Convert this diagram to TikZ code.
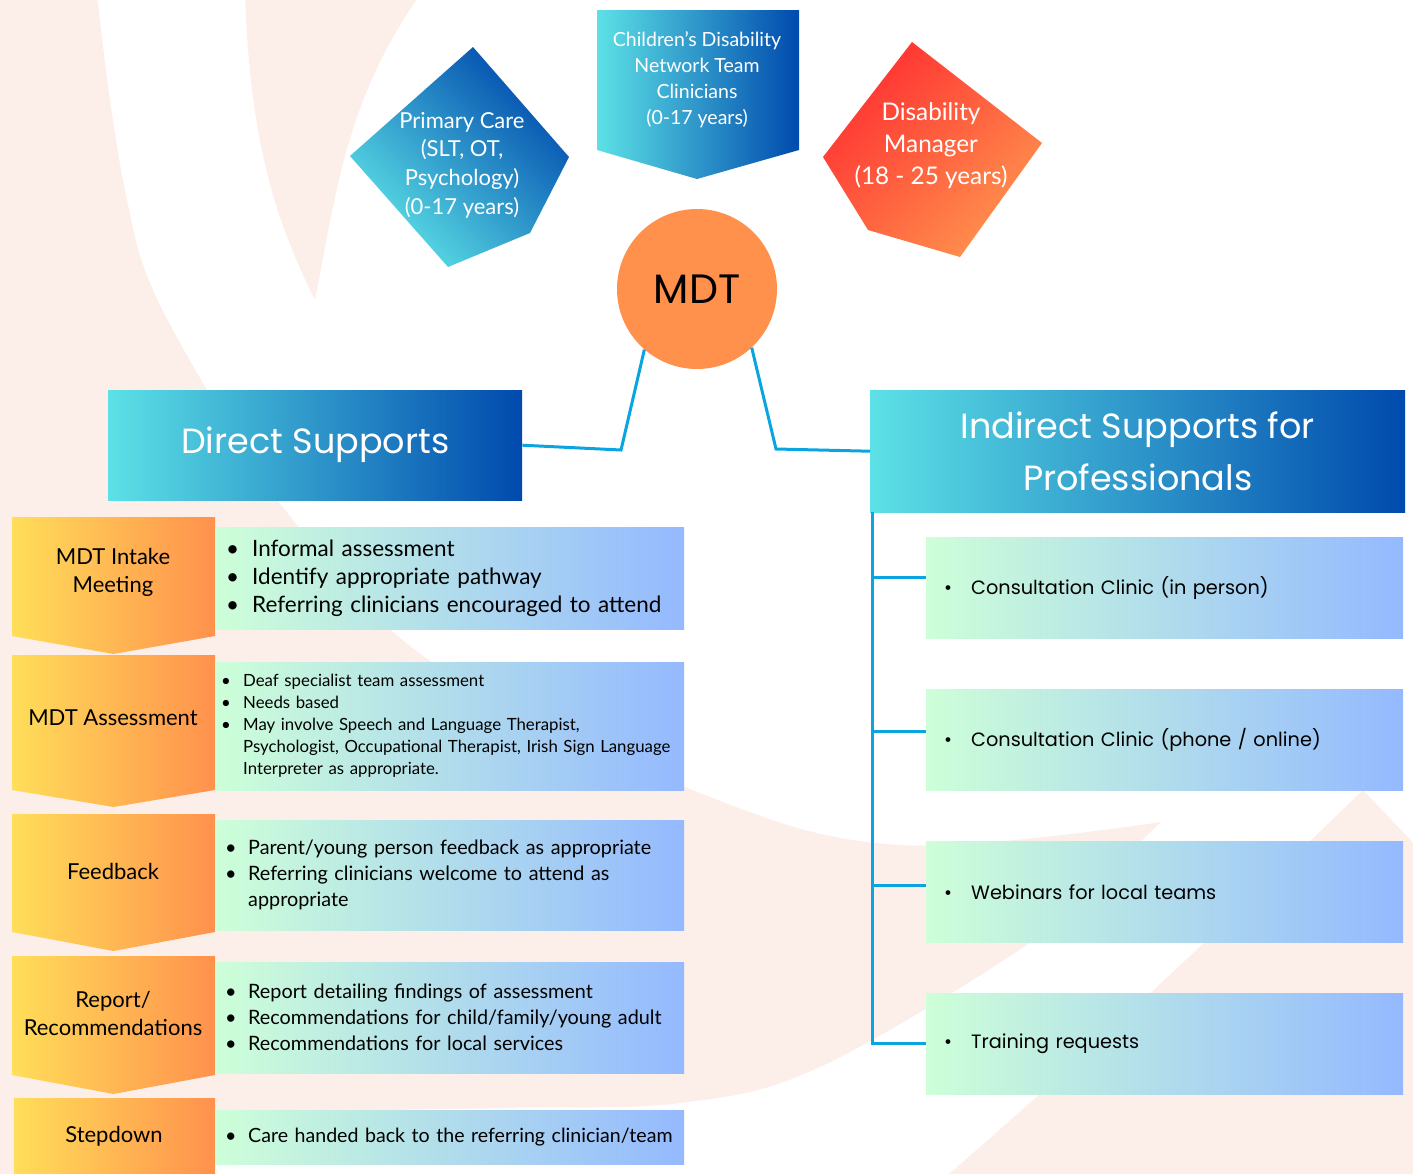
\documentclass[tikz,border=0pt]{standalone}
\usepackage{fontspec}
\setmainfont{Lato}
\newfontfamily\headfont{Poppins}
\usepackage{tikz}
\usetikzlibrary{positioning,calc}

\definecolor{swirlpeach}{HTML}{FCEFEA}
\definecolor{tealcyan}{HTML}{5CE1E6}
\definecolor{royalblue}{HTML}{004AAD}
\definecolor{sunyellow}{HTML}{FFDE59}
\definecolor{mdtorange}{HTML}{FF914D}
\definecolor{mintgreen}{HTML}{CDFFD8}
\definecolor{skyblue}{HTML}{94B9FF}
\definecolor{hotred}{HTML}{FF3131}
\definecolor{linkblue}{HTML}{0AA5E0}

\newcommand{\bitem}[2]{\mbox{\makebox[#1][l]{\textbullet}#2}}
\newcommand{\bcont}[2]{\mbox{\hspace*{#1}#2}}

\tikzset{
  link/.style={linkblue, line width=3pt},
  headbox/.style={anchor=north west, inner sep=0pt, left color=tealcyan, right color=royalblue,
    text=white, align=center, font=\headfont\fontsize{35}{52}\selectfont},
  stagebox/.style={anchor=north west, inner ysep=0pt, left color=mintgreen, right color=skyblue,
    minimum width=469pt, align=left},
  stagelabel/.style={align=center, font=\fontsize{22}{28}\selectfont},
  profbox/.style={anchor=north west, inner xsep=18pt, left color=mintgreen, right color=skyblue,
    minimum width=477pt, minimum height=101pt, text width=441pt, align=left,
    font=\headfont\fontsize{19.3}{22}\selectfont},
  shapetext/.style={text=white, align=center}
}

\begin{document}
\begin{tikzpicture}[x=1pt,y=-1pt]
% Canvas
\useasboundingbox (0,0) rectangle (1413,1173);
\clip (0,0) rectangle (1413,1173);

% Background swirl
\fill[swirlpeach] (-5,-5) -- plot[smooth, tension=0.6] coordinates {(97,-5) (110,100) (127,200) (150,283)
  (207,390) (277,500) (429,660) (700,793) (900,845) (1161,822)}
  -- plot[smooth, tension=0.6] coordinates {(1161,822) (1100,880) (1030,943) (820,1067) (680,1103)
  (500,1108) (260,1112)} -- (215,1140) -- (-5,1180) -- cycle;
\fill[swirlpeach] (245,-5) .. controls (250,150) and (280,230) .. (315,300)
  .. controls (335,200) and (345,100) .. (420,-5) -- cycle;
\fill[swirlpeach] (942,1180) .. controls (1150,1000) and (1300,850) .. (1363,790)
  -- (1420,850) -- (1420,1180) -- cycle;

% Referral sources
\shade[left color=tealcyan, right color=royalblue, shading angle=135]
  (473,47) -- (569,157) -- (530,233) -- (448,267) -- (350,156) -- cycle;
\node[shapetext, font=\fontsize{22}{28.7}\selectfont] (pcare) at (462,165)
  {Primary Care\\(SLT, OT,\\Psychology)\\(0-17 years)};

\shade[left color=tealcyan, right color=royalblue]
  (597,10) -- (799,10) -- (799,150) -- (697,179) -- (597,150) -- cycle;
\node[shapetext, font=\fontsize{19.5}{26}\selectfont] (cdnt) at (697,80)
  {Children's Disability\\Network Team\\Clinicians\\(0-17 years)};

\shade[left color=hotred, right color=mdtorange, shading angle=45]
  (912,42) -- (1042,143) -- (960,257) -- (868,230) -- (823,157) -- cycle;
\node[shapetext, font=\fontsize{24.3}{32}\selectfont] (dman) at (931,146)
  {Disability\\Manager\\(18 - 25 years)};

% MDT hub
\node[circle, fill=mdtorange, minimum size=160pt, inner sep=0pt,
  font=\headfont\fontsize{41}{44}\selectfont] (mdt) at (697,289) {MDT};

% Support headers
\node[headbox, minimum width=414pt, minimum height=110pt] (direct) at (108,390) {Direct Supports};
\node[headbox, minimum width=535pt, minimum height=122pt] (indirect) at (870,390)
  {Indirect Supports for\\Professionals};

\coordinate (lbend) at (621,450);
\coordinate (rbend) at (776,449);
\draw[link] (mdt.-131) -- (lbend) -- (direct.east);
\draw[link] (mdt.-47) -- (rbend) -- (indirect.west);

% Pathway steps
\foreach \ya/\yb/\yc in {517/636/654, 655/790/807, 814/932/951, 956/1075/1094}
  \shade[left color=sunyellow, right color=mdtorange]
    (12,\ya) -- (215,\ya) -- (215,\yb) -- (113.5,\yc) -- (12,\yb) -- cycle;
\shade[left color=sunyellow, right color=mdtorange] (14,1098) rectangle (215,1180);

\node[stagelabel] (intake) at (113,572) {MDT Intake\\Meeting};
\node[stagelabel] (assess) at (113,718) {MDT Assessment};
\node[stagelabel] (feedback) at (113,871) {Feedback};
\node[stagelabel] (report) at (113,1013) {Report/\\Recommendations};
\node[stagelabel] (stepdown) at (114,1136) {Stepdown};

\node[stagebox, minimum height=102pt, inner xsep=11pt, text width=447pt,
  font=\fontsize{22.5}{28}\selectfont] (d1) at (215,527)
  {\bitem{26pt}{Informal assessment}\\
   \bitem{26pt}{Identify appropriate pathway}\\
   \bitem{26pt}{Referring clinicians encouraged to attend}};
\node[stagebox, minimum height=128pt, inner xsep=6pt, text width=457pt,
  font=\fontsize{16.8}{22}\selectfont] (d2) at (215,662)
  {\bitem{22pt}{Deaf specialist team assessment}\\
   \bitem{22pt}{Needs based}\\
   \bitem{22pt}{May involve Speech and Language Therapist,}\\
   \bcont{22pt}{Psychologist, Occupational Therapist, Irish Sign Language}\\
   \bcont{22pt}{Interpreter as appropriate.}};
\node[stagebox, minimum height=110pt, inner xsep=10pt, text width=449pt,
  font=\fontsize{19.8}{26}\selectfont] (d3) at (215,820)
  {\bitem{23pt}{Parent/young person feedback as appropriate}\\
   \bitem{23pt}{Referring clinicians welcome to attend as}\\
   \bcont{23pt}{appropriate}};
\node[stagebox, minimum height=111pt, inner xsep=10pt, text width=449pt,
  font=\fontsize{19.8}{26}\selectfont] (d4) at (215,962)
  {\bitem{23pt}{Report detailing findings of assessment}\\
   \bitem{23pt}{Recommendations for child/family/young adult}\\
   \bitem{23pt}{Recommendations for local services}};
\node[stagebox, minimum height=54pt, inner xsep=10pt, text width=449pt,
  font=\fontsize{19.6}{26}\selectfont] (d5) at (215,1110)
  {\bitem{23pt}{Care handed back to the referring clinician/team}};

% Indirect supports
\node[profbox] (c1) at (926,537) {\bitem{27pt}{Consultation Clinic (in person)}};
\node[profbox] (c2) at (926,689) {\bitem{27pt}{Consultation Clinic (phone / online)}};
\node[profbox] (c3) at (926,841) {\bitem{27pt}{Webinars for local teams}};
\node[profbox] (c4) at (926,993) {\bitem{27pt}{Training requests}};

\foreach \n/\dy in {c1/10, c2/8, c3/6, c4/0}
  \draw[link] ([xshift=2pt]indirect.south west) |- ([yshift=\dy pt]\n.west);
\end{tikzpicture}
\end{document}
